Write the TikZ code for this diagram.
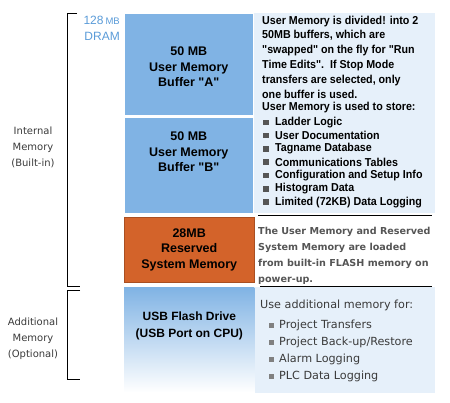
\documentclass[tikz,border=0pt]{standalone}
\usepackage{fontspec}
\setmainfont{Liberation Sans}
\newfontfamily\boxfont{Liberation Sans}
\newfontfamily\narrowbold[FakeStretch=0.93]{Liberation Sans Bold}
\newfontfamily\grayfont{DejaVu Sans}
\newfontfamily\tahoma{DejaVu Sans}
\definecolor{memblue}{HTML}{80B3E4}
\definecolor{panelblue}{HTML}{E6F0FA}
\definecolor{sysorange}{HTML}{D3632A}
\definecolor{dramblue}{HTML}{5A9BD8}
\definecolor{labelgray}{HTML}{3A3A3A}
\definecolor{midgray}{HTML}{555555}
\definecolor{bulletgray}{HTML}{555555}
\tikzset{
  membox/.style={draw=white, line width=0.6pt, fill=memblue, minimum width=129pt, anchor=north west, inner sep=0pt},
  boxtext/.style={align=center, inner sep=0pt, font=\boxfont\bfseries\fontsize{12.5}{15.5}\selectfont, text=black},
  panel/.style={fill=panelblue, draw=none, anchor=north west, inner sep=0pt},
  bracket/.style={draw=black, line width=0.9pt},
  sidelabel/.style={align=center, font=\tahoma\fontsize{10}{16}\selectfont, text=labelgray},
  toptext/.style={anchor=north west, inner sep=0pt, align=left, font=\narrowbold\fontsize{11.5}{14.8}\selectfont},
  listitem/.style={anchor=west, inner sep=0pt, font=\narrowbold\fontsize{11.5}{13}\selectfont},
  sqbullet/.style={fill=bulletgray, minimum size=5.5pt, inner sep=0pt, anchor=west},
  bottext/.style={anchor=west, inner sep=0pt, text=labelgray, font=\tahoma\fontsize{11.2}{13}\selectfont},
}
\begin{document}
\begin{tikzpicture}[x=1pt,y=-1pt]
\useasboundingbox (0,0) rectangle (450,402);
% panels
\node[panel, minimum width=181pt, minimum height=200pt] (ptop) at (254,13) {};
\node[panel, minimum width=180pt, minimum height=106pt] (pbot) at (255,287) {};
% boxes
\node[membox, minimum height=102pt] (bufA) at (124,13) {};
\node[boxtext] (bufAt) at (bufA.center |- 0,67) {50 MB\\User Memory\\Buffer "A"};
\node[membox, minimum height=96pt] (bufB) at (124,117) {};
\node[boxtext] (bufBt) at (bufB.center |- 0,152) {50 MB\\User Memory\\Buffer "B"};
\node[membox, fill=sysorange, draw=sysorange!80!black, line width=0.4pt, minimum width=130pt, minimum height=65pt] (sys) at (124,217) {};
\node[boxtext] (syst) at (sys.center) {28MB\\Reserved\\System Memory};
\node[membox, draw=none, top color=memblue, bottom color=white, minimum width=130pt, minimum height=105pt] (usb) at (124,287) {};
\node[boxtext, font=\boxfont\bfseries\fontsize{12}{17}\selectfont] (usbtext) at (usb.center |- 0,326) {USB Flash Drive\\(USB Port on CPU)};
% separator lines
\coordinate (l1a) at (258,215); \coordinate (l1b) at (432,215);
\coordinate (l2a) at (260,286); \coordinate (l2b) at (432,286);
\draw[line width=1pt] (l1a) -- (l1b);
\draw[line width=1pt] (l2a) -- (l2b);
% brackets
\coordinate (b1t) at (77,13); \coordinate (b1tl) at (67,13);
\coordinate (b1bl) at (67,286); \coordinate (b1b) at (80,286);
\coordinate (b2t) at (80,290); \coordinate (b2tl) at (67,290);
\coordinate (b2bl) at (67,379); \coordinate (b2b) at (80,379);
\draw[bracket] (b1t) -- (b1tl) -- (b1bl) -- (b1b);
\draw[bracket] (b2t) -- (b2tl) -- (b2bl) -- (b2b);
% side labels
\node[sidelabel] (internal) at (33,147) {Internal\\Memory\\(Built-in)};
\node[sidelabel] (additional) at (33,339) {Additional\\Memory\\(Optional)};
\node[align=right, anchor=north east, inner sep=0pt, text=dramblue, font=\fontsize{12}{15.5}\selectfont] (dram) at (120,16) {128\,{\fontsize{9.5}{14}\selectfont MB}\\DRAM};
% top panel text
\node[toptext] (p1) at (262,15.5) {User Memory is divided! into 2\\50MB buffers, which are\\"swapped" on the fly for "Run\\Time Edits".\ \ If Stop Mode\\transfers are selected, only\\one buffer is used.};
\node[toptext] (p2) at (262,102) {User Memory is used to store:};
\foreach \t [count=\i] in {Ladder Logic, User Documentation, Tagname Database, Communications Tables, Configuration and Setup Info, Histogram Data, Limited (72KB) Data Logging}{
  \node[sqbullet] (b\i) at (263,{109+13.3*\i}) {};
  \node[listitem] (li\i) at (275,{109+13.3*\i}) {\t};
}
% middle text
\node[anchor=north west, inner sep=0pt, align=left, text=midgray, font=\grayfont\bfseries\fontsize{9.6}{16}\selectfont] (p3) at (258,227) {The User Memory and Reserved\\System Memory are loaded\\from built-in FLASH memory on\\power-up.};
% bottom text
\node[bottext] (p4) at (260,305) {Use additional memory for:};
\foreach \t [count=\i] in {Project Transfers, Project Back-up/Restore, Alarm Logging, PLC Data Logging}{
  \node[sqbullet, minimum size=5pt, fill=gray] (c\i) at (269,{308+17.2*\i}) {};
  \node[bottext] (ci\i) at (279,{308+17.2*\i}) {\t};
}
\end{tikzpicture}
\end{document}
